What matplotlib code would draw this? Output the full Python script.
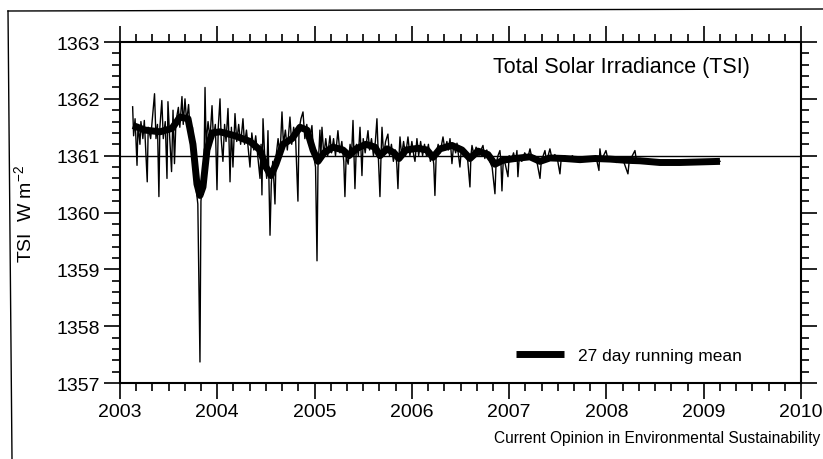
import matplotlib
matplotlib.use('Agg')
import matplotlib.pyplot as plt
from matplotlib.ticker import MultipleLocator
from matplotlib.lines import Line2D

plt.rcParams['font.family'] = ['Liberation Sans', 'DejaVu Sans']
plt.rcParams['mathtext.fontset'] = 'custom'
plt.rcParams['mathtext.rm'] = 'Liberation Sans'
plt.rcParams['mathtext.it'] = 'Liberation Sans'

# Суточные значения TSI (ключевые точки и выбросы)
tsi_years = [
    2003.130, 2003.140, 2003.155, 2003.175, 2003.185, 2003.205, 2003.215, 2003.235, 2003.250, 2003.280,
    2003.290, 2003.315, 2003.335, 2003.355, 2003.370, 2003.385, 2003.400, 2003.410, 2003.430, 2003.445,
    2003.465, 2003.483, 2003.493, 2003.510, 2003.530, 2003.545, 2003.560, 2003.575, 2003.600, 2003.615,
    2003.637, 2003.650, 2003.668, 2003.685, 2003.705, 2003.725, 2003.745, 2003.760, 2003.780, 2003.800,
    2003.822, 2003.832, 2003.850, 2003.865, 2003.874, 2003.885, 2003.905, 2003.925, 2003.946, 2003.960,
    2003.980, 2003.997, 2004.010, 2004.028, 2004.040, 2004.058, 2004.075, 2004.090, 2004.110, 2004.120,
    2004.131, 2004.145, 2004.161, 2004.182, 2004.200, 2004.220, 2004.240, 2004.264, 2004.280, 2004.300,
    2004.320, 2004.336, 2004.355, 2004.375, 2004.395, 2004.415, 2004.439, 2004.450, 2004.459, 2004.470,
    2004.490, 2004.508, 2004.521, 2004.532, 2004.542, 2004.555, 2004.570, 2004.580, 2004.593, 2004.605,
    2004.625, 2004.645, 2004.665, 2004.680, 2004.700, 2004.720, 2004.747, 2004.765, 2004.785, 2004.805,
    2004.829, 2004.840, 2004.860, 2004.881, 2004.900, 2004.920, 2004.940, 2004.960, 2004.973, 2004.990,
    2005.010, 2005.025, 2005.035, 2005.045, 2005.055, 2005.065, 2005.076, 2005.095, 2005.115, 2005.135,
    2005.158, 2005.175, 2005.195, 2005.215, 2005.240, 2005.260, 2005.280, 2005.300, 2005.312, 2005.325,
    2005.345, 2005.365, 2005.380, 2005.395, 2005.405, 2005.415, 2005.430, 2005.450, 2005.467, 2005.477,
    2005.487, 2005.500, 2005.520, 2005.549, 2005.565, 2005.585, 2005.605, 2005.625, 2005.641, 2005.655,
    2005.672, 2005.683, 2005.693, 2005.710, 2005.730, 2005.754, 2005.770, 2005.790, 2005.810, 2005.830,
    2005.845, 2005.857, 2005.868, 2005.878, 2005.895, 2005.915, 2005.935, 2005.960, 2005.980, 2006.000,
    2006.020, 2006.032, 2006.052, 2006.070, 2006.090, 2006.110, 2006.130, 2006.150, 2006.170, 2006.190,
    2006.210, 2006.225, 2006.237, 2006.250, 2006.270, 2006.290, 2006.320, 2006.340, 2006.360, 2006.375,
    2006.392, 2006.402, 2006.412, 2006.430, 2006.450, 2006.464, 2006.480, 2006.494, 2006.510, 2006.530,
    2006.550, 2006.575, 2006.597, 2006.607, 2006.618, 2006.640, 2006.660, 2006.690, 2006.710, 2006.731,
    2006.750, 2006.770, 2006.800, 2006.825, 2006.854, 2006.865, 2006.885, 2006.905, 2006.915, 2006.926,
    2006.940, 2006.960, 2006.988, 2007.000, 2007.020, 2007.045, 2007.065, 2007.080, 2007.090, 2007.105,
    2007.130, 2007.160, 2007.190, 2007.214, 2007.235, 2007.260, 2007.290, 2007.317, 2007.330, 2007.350,
    2007.368, 2007.385, 2007.400, 2007.419, 2007.440, 2007.470, 2007.500, 2007.522, 2007.535, 2007.570,
    2007.610, 2007.650, 2007.690, 2007.730, 2007.770, 2007.810, 2007.850, 2007.890, 2007.923, 2007.933,
    2007.950, 2007.970, 2007.995, 2008.020, 2008.060, 2008.100, 2008.140, 2008.180, 2008.221, 2008.235,
    2008.260, 2008.293, 2008.310, 2008.350, 2008.400, 2008.450, 2008.500, 2008.550, 2008.600, 2008.650,
    2008.700, 2008.750, 2008.800, 2008.850, 2008.900, 2008.950, 2009.000, 2009.050, 2009.100, 2009.167,
]
tsi_values = [
    1361.86, 1361.35, 1361.65, 1360.83, 1361.55, 1361.20, 1361.60, 1361.30, 1361.62, 1360.54,
    1361.50, 1361.30, 1361.70, 1362.09, 1361.30, 1361.55, 1360.28, 1361.50, 1361.97, 1361.30,
    1361.60, 1360.60, 1361.95, 1361.35, 1360.72, 1361.80, 1360.86, 1361.60, 1361.85, 1361.50,
    1362.04, 1361.55, 1362.00, 1361.60, 1361.90, 1361.30, 1361.50, 1360.80, 1360.45, 1360.15,
    1357.37, 1360.20, 1360.55, 1361.00, 1362.20, 1361.20, 1361.60, 1361.30, 1361.88, 1361.30,
    1361.55, 1360.40, 1361.50, 1362.00, 1361.30, 1360.90, 1361.55, 1361.25, 1361.83, 1361.30,
    1360.54, 1361.50, 1360.80, 1361.74, 1361.25, 1361.55, 1361.20, 1361.65, 1361.20, 1361.45,
    1361.10, 1360.80, 1361.40, 1361.10, 1361.35, 1361.00, 1360.60, 1361.20, 1360.31, 1361.65,
    1360.90, 1360.60, 1361.44, 1360.50, 1359.60, 1360.50, 1360.90, 1360.60, 1360.15, 1361.00,
    1361.30, 1361.00, 1361.77, 1361.20, 1361.45, 1361.10, 1361.68, 1361.20, 1361.50, 1361.30,
    1360.20, 1361.45, 1361.65, 1361.77, 1361.30, 1361.55, 1361.20, 1361.40, 1361.53, 1361.00,
    1360.80, 1359.15, 1360.80, 1361.10, 1361.45, 1361.00, 1361.50, 1361.00, 1361.30, 1361.00,
    1361.35, 1361.05, 1361.30, 1361.00, 1361.44, 1361.05, 1361.25, 1360.90, 1360.28, 1361.00,
    1360.85, 1361.20, 1361.00, 1361.62, 1361.05, 1360.42, 1361.20, 1361.00, 1361.50, 1361.10,
    1360.65, 1361.30, 1361.05, 1361.44, 1361.10, 1361.30, 1361.00, 1361.25, 1361.65, 1361.00,
    1360.28, 1361.00, 1361.50, 1361.00, 1361.25, 1361.38, 1361.00, 1361.20, 1360.90, 1361.10,
    1360.85, 1360.42, 1361.00, 1361.33, 1361.00, 1361.25, 1361.00, 1361.33, 1361.00, 1361.25,
    1361.00, 1360.90, 1361.30, 1361.00, 1361.25, 1361.00, 1361.20, 1361.00, 1361.20, 1360.90,
    1361.05, 1360.85, 1360.30, 1361.00, 1361.20, 1361.05, 1361.33, 1361.10, 1361.25, 1361.10,
    1361.30, 1361.10, 1360.86, 1361.20, 1361.05, 1361.22, 1361.00, 1360.80, 1361.15, 1361.00,
    1361.10, 1360.90, 1360.45, 1361.00, 1361.18, 1361.00, 1361.15, 1361.00, 1361.10, 1361.18,
    1360.95, 1361.10, 1360.90, 1360.80, 1360.33, 1360.85, 1361.00, 1361.09, 1360.90, 1360.38,
    1360.95, 1360.85, 1360.63, 1361.00, 1360.90, 1361.05, 1360.90, 1361.09, 1360.63, 1361.00,
    1360.90, 1361.05, 1360.95, 1361.12, 1360.95, 1361.00, 1360.85, 1360.60, 1360.90, 1361.00,
    1361.09, 1360.90, 1361.00, 1361.12, 1360.95, 1361.02, 1360.90, 1360.68, 1360.95, 1361.00,
    1360.90, 1361.00, 1360.90, 1360.98, 1360.90, 1360.98, 1360.90, 1361.00, 1360.74, 1361.12,
    1360.90, 1361.00, 1361.09, 1360.90, 1360.98, 1360.88, 1360.97, 1360.88, 1360.68, 1360.92,
    1360.98, 1361.09, 1360.90, 1360.95, 1360.87, 1360.92, 1360.86, 1360.90, 1360.85, 1360.90,
    1360.86, 1360.90, 1360.86, 1360.90, 1360.87, 1360.91, 1360.87, 1360.91, 1360.88, 1360.90,
]

# Скользящее среднее за 27 дней
mean_years = [
    2003.134, 2003.257, 2003.411, 2003.534, 2003.617, 2003.699, 2003.750, 2003.791, 2003.822, 2003.853,
    2003.894, 2003.946, 2004.028, 2004.182, 2004.336, 2004.439, 2004.500, 2004.552, 2004.603, 2004.675,
    2004.768, 2004.850, 2004.922, 2004.984, 2005.035, 2005.097, 2005.189, 2005.292, 2005.354, 2005.425,
    2005.528, 2005.621, 2005.672, 2005.744, 2005.816, 2005.867, 2005.939, 2006.063, 2006.155, 2006.217,
    2006.289, 2006.412, 2006.515, 2006.597, 2006.679, 2006.782, 2006.854, 2006.936, 2007.059, 2007.214,
    2007.317, 2007.419, 2007.573, 2007.728, 2007.882, 2008.036, 2008.190, 2008.344, 2008.550, 2008.755,
    2008.961, 2009.167,
]
mean_values = [
    1361.53, 1361.45, 1361.42, 1361.48, 1361.68, 1361.65, 1361.20, 1360.50, 1360.30, 1360.45,
    1361.10, 1361.40, 1361.42, 1361.35, 1361.25, 1361.10, 1360.80, 1360.65, 1360.85, 1361.20,
    1361.30, 1361.50, 1361.45, 1361.10, 1360.90, 1361.05, 1361.15, 1361.10, 1361.00, 1361.12,
    1361.20, 1361.15, 1361.00, 1361.12, 1361.05, 1360.95, 1361.10, 1361.13, 1361.10, 1360.97,
    1361.12, 1361.18, 1361.10, 1360.95, 1361.08, 1361.02, 1360.85, 1360.92, 1360.95, 1360.98,
    1360.90, 1360.96, 1360.95, 1360.93, 1360.95, 1360.94, 1360.92, 1360.91, 1360.88, 1360.88,
    1360.89, 1360.90,
]

year_ticks = [2003, 2004, 2005, 2006, 2007, 2008, 2009, 2010]
tsi_ticks = [1357, 1358, 1359, 1360, 1361, 1362, 1363]

fig = plt.figure(figsize=(8.23, 4.6), dpi=100)
ax = fig.add_axes([0.1458, 0.1652, 0.8275, 0.7413])

ax.axhline(1361, color='black', lw=1.0, zorder=1)
ax.plot(tsi_years, tsi_values, color='black', lw=1.0, zorder=2)
ax.plot(mean_years, mean_values, color='black', lw=5, solid_capstyle='butt',
        zorder=3, label='27 day running mean')

ax.set_xlim(2003, 2010)
ax.set_ylim(1357, 1363)
ax.set_xticks(year_ticks)
ax.set_yticks(tsi_ticks)
ax.xaxis.set_minor_locator(MultipleLocator(1 / 6))
ax.yaxis.set_minor_locator(MultipleLocator(0.2))

ax.tick_params(which='both', direction='out', top=True, right=True, width=1.2,
               labelsize=14, colors='black')
ax.tick_params(which='major', length=11.5, pad=3)
ax.tick_params(which='minor', length=6)
for sp in ax.spines.values():
    sp.set_linewidth(1.5)

ax.set_ylabel('TSI  W m$^{-2}$', fontsize=14)
ax.yaxis.set_label_coords(-0.125, 0.5)

ax.text(0.7364, 0.9296, 'Total Solar Irradiance (TSI)', transform=ax.transAxes,
        ha='center', va='center', fontsize=15.5)

ax.legend(loc='center left', bbox_to_anchor=(0.5815, 0.082), frameon=False,
          fontsize=12.5, handlelength=2.75, handletextpad=0.8, borderpad=0,
          borderaxespad=0)

fig.text(0.997, 0.0457, 'Current Opinion in Environmental Sustainability',
         fontsize=11.2, va='center', ha='right')

# Рамка скана
fig.add_artist(Line2D([8 / 823, 1.0], [1 - 12 / 460, 1 - 10 / 460],
                      transform=fig.transFigure, color='black', lw=1.0))
fig.add_artist(Line2D([8 / 823, 12 / 823], [1 - 12 / 460, 0.0],
                      transform=fig.transFigure, color='black', lw=1.0))

fig.savefig('out.png', dpi=100)
